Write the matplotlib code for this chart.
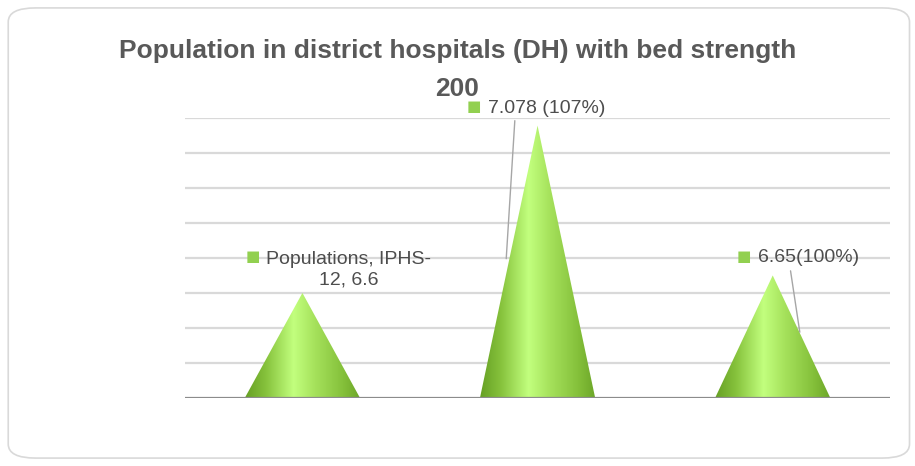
import numpy as np
import matplotlib
matplotlib.use("Agg")
import matplotlib.pyplot as plt
from matplotlib.patches import Polygon, FancyBboxPatch
from matplotlib.colors import LinearSegmentedColormap

plt.rcParams["font.family"] = ["Liberation Sans", "DejaVu Sans"]

# ---- data ----
categories = ["Populations, IPHS-12", "Actual", "Target"]
values = [6.6, 7.078, 6.65]
label_texts = ["Populations, IPHS-\n12, 6.6", "7.078 (107%)", "6.65(100%)"]
y_min, y_max, y_step = 6.3, 7.1, 0.1

TITLE = "Population in district hospitals (DH) with bed strength\n200"
GREEN = "#92D050"
TEXT = "#4D4D4D"

fig = plt.figure(figsize=(9.15, 4.66), dpi=100)

# rounded chart border
border = FancyBboxPatch((0.009, 0.017), 0.985, 0.966, boxstyle="round,pad=0,rounding_size=0.03",
                        transform=fig.transFigure, facecolor="none", edgecolor="#D9D9D9",
                        linewidth=1.2, zorder=-1)
fig.patches.append(border)

ax = fig.add_axes([0.202, 0.146, 0.771, 0.601])
ax.patch.set_alpha(0)

# gridlines
for g in np.arange(y_min + y_step, y_max + y_step / 2, y_step):
    ax.axhline(g, color="#D9D9D9", lw=1.6, zorder=1)
ax.axhline(y_min, color="#8C8C8C", lw=1.6, zorder=4)

for s in ax.spines.values():
    s.set_visible(False)
ax.set_xticks([])
ax.set_yticks([])

# cone shading
cmap = LinearSegmentedColormap.from_list(
    "cone", [(0.0, "#66A024"), (0.18, "#86C23C"), (0.42, "#C2FF7E"),
             (0.6, "#A6E25C"), (0.85, "#84C03A"), (1.0, "#6CA628")])
grad = np.tile(np.linspace(0, 1, 256), (64, 1))
half_w = 0.245
for i, v in enumerate(values):
    tri = Polygon([(i - half_w, y_min), (i, v), (i + half_w, y_min)], closed=True,
                  facecolor="none", edgecolor="none", transform=ax.transData)
    ax.add_patch(tri)
    im = ax.imshow(grad, cmap=cmap, extent=(i - half_w, i + half_w, y_min, v),
                   aspect="auto", origin="lower", zorder=3, interpolation="bilinear")
    im.set_clip_path(tri)

ax.set_aspect("auto")
ax.set_xlim(-0.5, len(values) - 0.5)
ax.set_ylim(y_min, y_max)

# data labels (position, leader target)
label_pos = [(0.198, 6.666), (1.04, 7.127), (2.151, 6.70)]
leader_to = [None, (0.866, 6.69), (2.117, 6.48)]
leader_from = [None, (0.904, 7.1), (2.074, 6.671)]
sq_yfrac = [0.8, 0.5, 0.5]

for i, txt in enumerate(label_texts):
    lx, ly = label_pos[i]
    t = ax.text(lx, ly, txt, ha="center", va="center", fontsize=14, color=TEXT,
                linespacing=1.25, clip_on=False, zorder=6)
    ax.annotate("\u25A0", xy=(0, sq_yfrac[i]), xycoords=t, xytext=(-5, 1.2),
                textcoords="offset points", ha="right", va="center",
                fontsize=11, color=GREEN, family="DejaVu Sans", zorder=6,
                annotation_clip=False)
    if leader_to[i] is not None:
        ax.annotate("", xy=leader_to[i], xytext=leader_from[i],
                    arrowprops=dict(arrowstyle="-", color="#A6A6A6", lw=1.0),
                    annotation_clip=False, zorder=5)

fig.text(0.5, 0.85, TITLE, ha="center", va="center", fontsize=19, fontweight="bold",
         color="#595959", linespacing=1.75)

fig.savefig("out.png", dpi=100)
